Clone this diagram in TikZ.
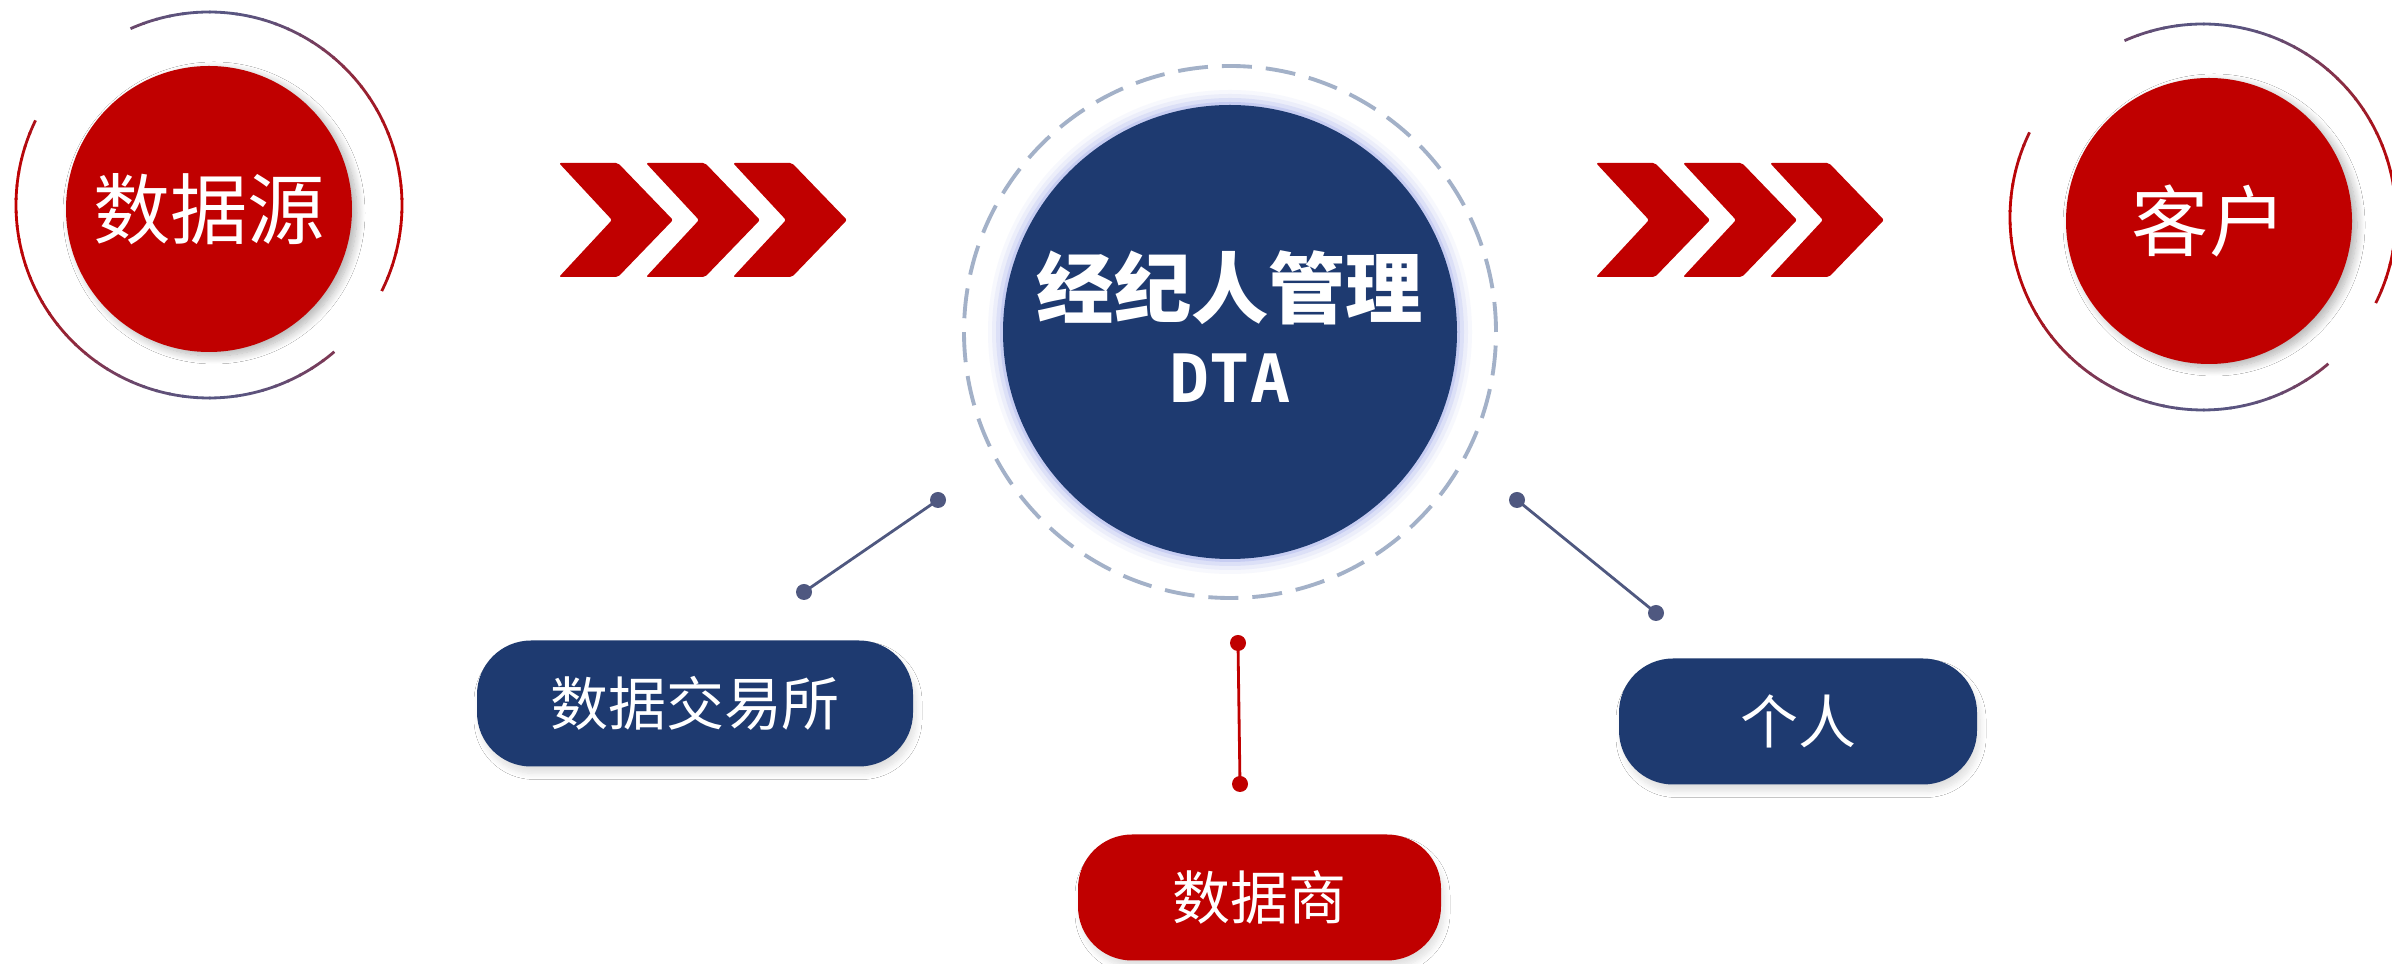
\documentclass[tikz,border=0pt]{standalone}
\usepackage{fontspec}
\setmainfont{Noto Sans CJK SC}
\newfontfamily\dtafont{DejaVu Sans Mono}
\usepackage{tikz}
\usetikzlibrary{shadows.blur,positioning}

\definecolor{dtared}{RGB}{192,0,0}
\definecolor{dtanavy}{RGB}{30,58,112}
\definecolor{ringblue}{RGB}{88,86,130}
\definecolor{pinline}{RGB}{79,88,128}
\definecolor{dashring}{RGB}{163,177,200}
\definecolor{glowblue}{RGB}{160,170,235}

\tikzset{
  endcircle/.style={circle, fill=dtared, text=white, minimum size=2.86cm, inner sep=0pt,
    font=\fontsize{22}{26}\selectfont,
    blur shadow={shadow xshift=0.05cm, shadow yshift=-0.04cm, shadow blur radius=0.08cm,
      shadow blur steps=12, shadow opacity=30}},
  pill/.style={rectangle, rounded corners=0.54cm, text=white, minimum height=1.26cm,
    font=\fontsize{16.5}{20}\selectfont,
    blur shadow={shadow xshift=0.03cm, shadow yshift=-0.07cm, shadow blur radius=0.06cm,
      shadow blur steps=10, shadow opacity=12}},
  chevron/.style={fill=dtared, rounded corners=0.6pt},
  ringline/.style={line width=0.8pt},
  pin/.style={line width=0.8pt},
}

\begin{document}
\begin{tikzpicture}

    \fill[white] (0,0) rectangle (23.92,9.64);
    \useasboundingbox (0,0) rectangle (23.92,9.64);

    % source and client
    \node[endcircle] (src) at (2.09,7.55) {数据源};
    \node[endcircle] (client) at (22.09,7.43) {客户};

    \foreach \cx/\cy in {2.09/7.59,22.03/7.47}{
        \foreach \a in {114,110,...,-24}{
            \pgfmathsetmacro\mix{100*cos(\a)^2}
            \draw[ringline, dtared!\mix!ringblue] (\cx,\cy) ++(\a:1.93) arc[start angle=\a, end angle=\a-4.5, radius=1.93];
        }
        \foreach \a in {154,158,...,309}{
            \pgfmathsetmacro\mix{100*cos(\a)^2}
            \draw[ringline, dtared!\mix!ringblue] (\cx,\cy) ++(\a:1.93) arc[start angle=\a, end angle=\a+4.5, radius=1.93];
        }
    }

    % chevrons
    \foreach \x in {5.59,6.46,7.33,15.96,16.83,17.70}
        \fill[chevron] (\x,8.01) -- ++(0.59,0) -- ++(0.55,-0.57) -- ++(-0.55,-0.57) -- ++(-0.59,0) -- ++(0.53,0.57) -- cycle;

    % broker
    \foreach \r/\o in {2.42/0.08,2.38/0.12,2.34/0.2,2.30/0.35}
        \fill[glowblue, opacity=\o] (12.30,6.32) circle[radius=\r];
    \node[circle, fill=dtanavy, minimum size=4.54cm, inner sep=0pt] (dta) at (12.30,6.32) {};
    \draw[dashring, line width=1.1pt, dash pattern=on 0.3cm off 0.14cm] (dta.center) circle[radius=2.66];
    \node[text=white, font=\bfseries\fontsize{22}{26}\selectfont] (ttl) at (12.30,6.76) {经纪人管理};
    \node[text=white, font=\dtafont\bfseries\fontsize{19}{22}\selectfont] (abbr) at (12.30,5.86) {DTA};

    % roles
    \node[pill, fill=dtanavy, minimum width=4.36cm] (exch) at (6.95,2.605) {数据交易所};
    \node[pill, fill=dtared, minimum width=3.63cm] (dealer) at (12.595,0.665) {数据商};
    \node[pill, fill=dtanavy, minimum width=3.58cm] (person) at (17.98,2.425) {个人};

    \coordinate (ex1) at (9.38,4.64);
    \coordinate (ex2) at (8.04,3.72);
    \coordinate (de1) at (12.38,3.21);
    \coordinate (de2) at (12.40,1.80);
    \coordinate (pe1) at (15.17,4.64);
    \coordinate (pe2) at (16.56,3.51);

    \draw[pin, pinline] (ex1) -- (ex2);
    \draw[pin, dtared] (de1) -- (de2);
    \draw[pin, pinline] (pe1) -- (pe2);
    \foreach \p in {ex1,ex2,pe1,pe2}
        \fill[pinline] (\p) circle[radius=0.08];
    \foreach \p in {de1,de2}
        \fill[dtared] (\p) circle[radius=0.08];

\end{tikzpicture}
\end{document}
